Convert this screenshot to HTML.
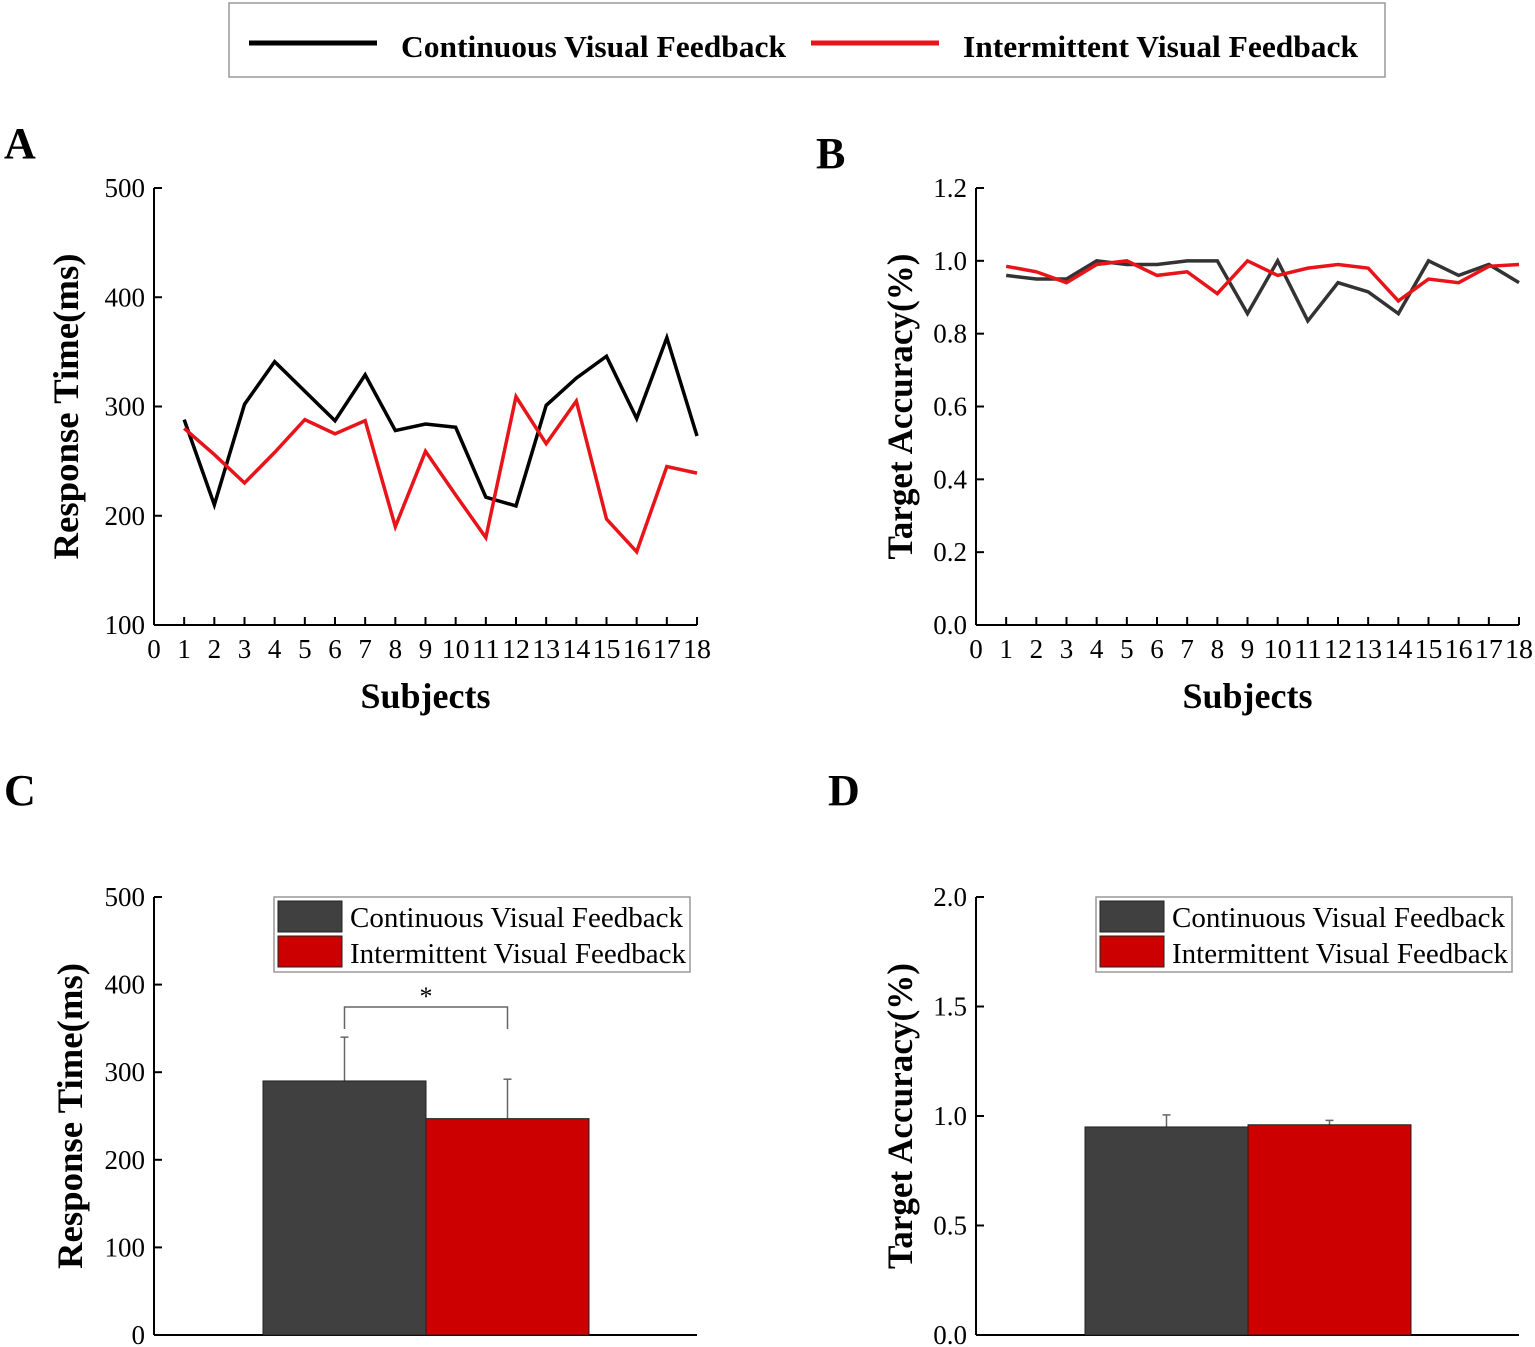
<!DOCTYPE html>
<html><head><meta charset="utf-8"><style>
html,body{margin:0;padding:0;background:#fff}
svg{display:block;font-family:"Liberation Serif",serif}
</style></head><body>
<svg id="fig" width="1535" height="1347" viewBox="0 0 1535 1347" xmlns="http://www.w3.org/2000/svg">
<g>
<rect x="229" y="3" width="1156" height="74" fill="#fff" stroke="#999" stroke-width="1.5"/>
<line x1="249" y1="43" x2="377" y2="43" stroke="#000" stroke-width="5"/>
<text x="401" y="57" font-size="31" font-weight="bold" textLength="385" lengthAdjust="spacingAndGlyphs">Continuous Visual Feedback</text>
<line x1="811" y1="43" x2="939" y2="43" stroke="#e8141a" stroke-width="5"/>
<text x="963" y="57" font-size="31" font-weight="bold" textLength="395" lengthAdjust="spacingAndGlyphs">Intermittent Visual Feedback</text>
</g>
<text x="4" y="158" font-size="44" font-weight="bold">A</text>
<text x="816" y="168" font-size="44" font-weight="bold">B</text>
<text x="4" y="805" font-size="44" font-weight="bold">C</text>
<text x="828" y="805" font-size="44" font-weight="bold">D</text>
<g id="plots"></g>
</svg>
<script>
const subjects=[1,2,3,4,5,6,7,8,9,10,11,12,13,14,15,16,17,18];
const xTicks=[0,1,2,3,4,5,6,7,8,9,10,11,12,13,14,15,16,17,18];
const rtContinuous=[288,210,302,341,314,287,329,278,284,281,217,209,301,326,346,289,363,273];
const rtIntermittent=[280,256,230,258,288,275,287,190,259,219,180,309,266,305,197,167,245,239];
const accContinuous=[0.96,0.95,0.95,1.0,0.99,0.99,1.0,1.0,0.855,1.0,0.835,0.94,0.915,0.855,1.0,0.96,0.99,0.94];
const accIntermittent=[0.985,0.97,0.94,0.99,1.0,0.96,0.97,0.91,1.0,0.96,0.98,0.99,0.98,0.89,0.95,0.94,0.985,0.99];
const rtTicks=[100,200,300,400,500];
const accTicks=[0.0,0.2,0.4,0.6,0.8,1.0,1.2];
const barRtMeans=[290,247];
const barRtErr=[50,45];
const barRtTicks=[0,100,200,300,400,500];
const barAccMeans=[0.95,0.96];
const barAccErr=[0.055,0.02];
const barAccTicks=[0.0,0.5,1.0,1.5,2.0];
const barColors=['#404040','#cc0000'];
const NS='http://www.w3.org/2000/svg';
const root=document.getElementById('plots');
function el(tag,attrs,parent,text){const e=document.createElementNS(NS,tag);for(const k in attrs)e.setAttribute(k,attrs[k]);if(text!==undefined)e.textContent=text;(parent||root).appendChild(e);return e;}

function axes(g,x0,x1,yTop,yBot,ymin,ymax,yt,fmt,ytitle,titleX){
  const Y=v=>yBot-(v-ymin)/(ymax-ymin)*(yBot-yTop);
  el('line',{x1:x0,y1:yTop,x2:x0,y2:yBot,stroke:'#000','stroke-width':2},g);
  el('line',{x1:x0,y1:yBot,x2:x1,y2:yBot,stroke:'#000','stroke-width':2},g);
  yt.forEach(v=>{
    el('line',{x1:x0,y1:Y(v),x2:x0+8,y2:Y(v),stroke:'#000','stroke-width':2},g);
    const t=el('text',{x:x0-9,y:Y(v)+9,'font-size':27,'text-anchor':'end'},g,fmt(v));
    
    
  });
  const cy=(yTop+yBot)/2;
  const tt=el('text',{x:titleX,y:cy,'font-size':36,'font-weight':'bold','text-anchor':'middle',textLength:306,lengthAdjust:'spacingAndGlyphs',transform:`rotate(-90 ${titleX} ${cy})`},g,ytitle);
  
  
  return Y;
}

function linePanel(name,x0,ymin,ymax,yt,fmt,ytitle,titleX,s1,s2,c1){
  const g=el('g',{});
  
  
  const x1=x0+543,yTop=188,yBot=625;
  const X=v=>x0+v*(x1-x0)/18;
  const Y=axes(g,x0,x1,yTop,yBot,ymin,ymax,yt,fmt,ytitle,titleX);
  xTicks.forEach(v=>{
    if(v>0)el('line',{x1:X(v),y1:yBot,x2:X(v),y2:yBot-8,stroke:'#000','stroke-width':2},g);
    const attrs={x:X(v),y:yBot+33,'font-size':27,'text-anchor':'middle'};
    if(v>=10){attrs.textLength=28;attrs.lengthAdjust='spacingAndGlyphs';}
    const t=el('text',attrs,g,String(v));
    
    
  });
  const xt=el('text',{x:(x0+x1)/2,y:yBot+83,'font-size':36,'font-weight':'bold','text-anchor':'middle'},g,'Subjects');
  
  
  const p1=el('polyline',{points:subjects.map((s,i)=>X(s)+','+Y(s1[i])).join(' '),fill:'none',stroke:c1,'stroke-width':3.5,'stroke-linejoin':'miter'},g);
  
  
  const p2=el('polyline',{points:subjects.map((s,i)=>X(s)+','+Y(s2[i])).join(' '),fill:'none',stroke:'#e8141a','stroke-width':3.5},g);
  
  
}

function barPanel(name,x0,ymin,ymax,yt,fmt,ytitle,titleX,means,errs,sig){
  const g=el('g',{});
  
  
  const x1=x0+543,yTop=897,yBot=1335;
  const Y=axes(g,x0,x1,yTop,yBot,ymin,ymax,yt,fmt,ytitle,titleX);
  const bw=163,bx0=x0+109;
  const centers=[];
  means.forEach((m,i)=>{
    const bx=bx0+i*bw;const cx=bx+bw/2;centers.push(cx);
    const ey=Y(m+errs[i]);
    const e=el('line',{x1:cx,y1:Y(m),x2:cx,y2:ey,stroke:'#666','stroke-width':1.5},g);
    
    
    el('line',{x1:cx-4,y1:ey,x2:cx+4,y2:ey,stroke:'#666','stroke-width':1.5},g);
    const r=el('rect',{x:bx,y:Y(m),width:bw,height:yBot-Y(m),fill:barColors[i],stroke:'#222','stroke-width':1},g);
    
    
  });
  if(sig){
    const by=1007;
    el('path',{d:`M${centers[0]} ${by+22} V${by} H${centers[1]} V${by+22}`,fill:'none',stroke:'#666','stroke-width':1.5},g);
    const s=el('text',{x:(centers[0]+centers[1])/2,y:by-2,'font-size':26,'text-anchor':'middle'},g,'*');
    
    
  }
  const lg=el('g',{},g);
  
  
  const lx=x0+120;
  el('rect',{x:lx,y:897,width:416,height:75,fill:'#fff',stroke:'#999','stroke-width':1.5},lg);
  ['Continuous Visual Feedback','Intermittent Visual Feedback'].forEach((t,i)=>{
    el('rect',{x:lx+4,y:901+i*35,width:64,height:31,fill:barColors[i],stroke:'#222','stroke-width':1},lg);
    const tx=el('text',{x:lx+76,y:927+i*36,'font-size':28,textLength:i===0?333:336,lengthAdjust:'spacingAndGlyphs'},lg,t);
    
    
  });
}

linePanel('panel-a-response-time',154,100,500,rtTicks,v=>String(v),'Response Time(ms)',78,rtContinuous,rtIntermittent,'#000');
linePanel('panel-b-target-accuracy',976,0,1.2,accTicks,v=>v.toFixed(1),'Target Accuracy(%)',912,accContinuous,accIntermittent,'#333');
barPanel('panel-c-mean-response-time',154,0,500,barRtTicks,v=>String(v),'Response Time(ms)',82,barRtMeans,barRtErr,true);
barPanel('panel-d-mean-accuracy',976,0,2.0,barAccTicks,v=>v.toFixed(1),'Target Accuracy(%)',912,barAccMeans,barAccErr,false);
</script>
</body></html>
